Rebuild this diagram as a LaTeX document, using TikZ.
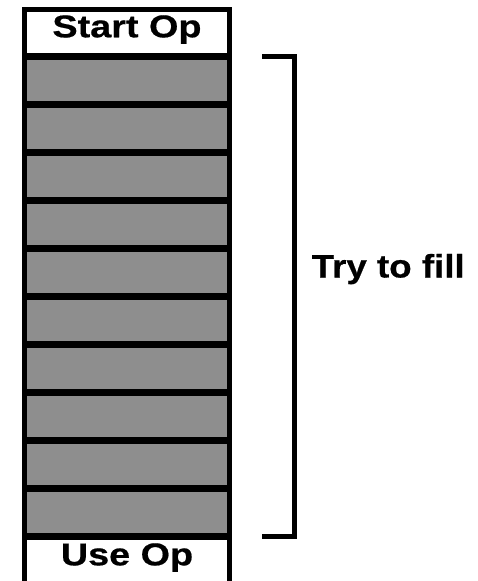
\documentclass[tikz,border=0pt]{standalone}
\usepackage{fontspec}
\setmainfont{Liberation Sans}
\newfontfamily\opfont[FakeStretch=1.2, FakeBold=0.6]{Liberation Sans}
\newfontfamily\tryfont[FakeStretch=1.13, FakeBold=0.6]{Liberation Sans}
\usepackage{tikz}
\usetikzlibrary{positioning, calc}
\definecolor{slotgray}{HTML}{8E8E8E}

\tikzset{
  opcell/.style={fill=white, minimum width=200pt, minimum height=41pt,
    inner sep=0pt, text height=25.3pt, text depth=15.7pt,
    font=\opfont\fontsize{31.5}{36}\selectfont\bfseries},
  slotcell/.style={fill=slotgray, minimum width=200pt, minimum height=41pt, inner sep=0pt},
  bracket/.style={line width=5pt, line join=miter}
}

\begin{document}
\begin{tikzpicture}[x=1pt, y=-1pt]
  \useasboundingbox (0,0) rectangle (478,581);
  % column frame
  \fill[black] (22,7) rectangle (232,581);
  \node[opcell] (start) at (127,32.5) {Start Op};
  % slots to fill
  \foreach \i in {1,...,10}
    \node[slotcell] (slot\i) at (127,{80.5+48*(\i-1)}) {};
  \node[opcell] (use) at (127,560.5) {Use Op};
  % bracket
  \coordinate (btop) at ($(slot1.north -| 262,0)+(0,-3.5)$);
  \coordinate (bbot) at ($(slot10.south -| 262,0)+(0,3.5)$);
  \draw[bracket] (btop) -- ++(32.5,0) |- (bbot);
  \node[font=\tryfont\fontsize{32.5}{36}\selectfont\bfseries, inner sep=0pt, anchor=base west] (fill) at (311.5,277.5) {Try to fill};
\end{tikzpicture}
\end{document}
